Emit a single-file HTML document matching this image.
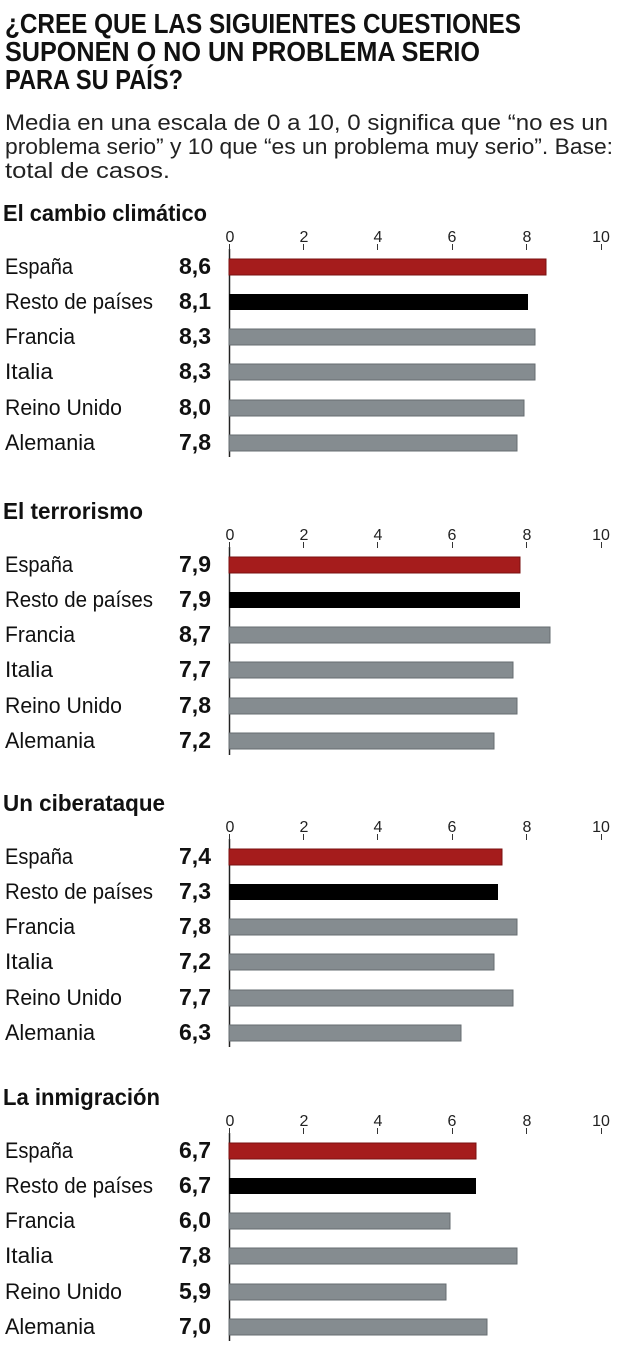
<!DOCTYPE html>
<html><head><meta charset="utf-8"><style>
html,body{margin:0;padding:0;background:#fff}
svg{display:block}
text{font-family:"Liberation Sans",sans-serif}
.t{font-weight:bold;font-size:28px;fill:#111}
.s{font-size:22px;fill:#222}
.h{font-weight:bold;font-size:23px;fill:#111}
.l{font-size:22px;fill:#111}
.v{font-weight:bold;font-size:23px;fill:#111}
.k{font-size:16px;fill:#222}
.r{fill:#a51c1c;stroke:#7a1010;stroke-width:1}
.b{fill:#000}
.g{fill:#858c90;stroke:#666c70;stroke-width:1}
</style></head><body>
<svg width="624" height="1367" viewBox="0 0 624 1367" xmlns="http://www.w3.org/2000/svg">
<text class="t" x="5" y="33" textLength="516" lengthAdjust="spacingAndGlyphs">¿CREE QUE LAS SIGUIENTES CUESTIONES</text>
<text class="t" x="5" y="61" textLength="475" lengthAdjust="spacingAndGlyphs">SUPONEN O NO UN PROBLEMA SERIO</text>
<text class="t" x="5" y="89" textLength="178" lengthAdjust="spacingAndGlyphs">PARA SU PAÍS?</text>
<text class="s" x="5" y="130" textLength="603" lengthAdjust="spacingAndGlyphs">Media en una escala de 0 a 10, 0 significa que “no es un</text>
<text class="s" x="5" y="154" textLength="608" lengthAdjust="spacingAndGlyphs">problema serio” y 10 que “es un problema muy serio”. Base:</text>
<text class="s" x="5" y="178" textLength="165" lengthAdjust="spacingAndGlyphs">total de casos.</text>

<defs>
<g id="ax">
<line x1="229.5" y1="249" x2="229.5" y2="457" stroke="#222" stroke-width="1.5"/>
<g stroke="#333" stroke-width="1">
<line x1="229.5" y1="244" x2="229.5" y2="250"/><line x1="303.5" y1="244" x2="303.5" y2="250"/><line x1="377.5" y1="244" x2="377.5" y2="250"/><line x1="452.5" y1="244" x2="452.5" y2="250"/><line x1="526.5" y1="244" x2="526.5" y2="250"/><line x1="601.5" y1="244" x2="601.5" y2="250"/>
</g>
<g text-anchor="middle">
<text x="230" y="242" class="k">0</text><text x="304" y="242" class="k">2</text><text x="378" y="242" class="k">4</text><text x="452" y="242" class="k">6</text><text x="527" y="242" class="k">8</text><text x="601" y="242" class="k">10</text>
</g>
<text class="l" x="5" y="274" textLength="68" lengthAdjust="spacingAndGlyphs">España</text>
<text class="l" x="5" y="309" textLength="148" lengthAdjust="spacingAndGlyphs">Resto de países</text>
<text class="l" x="5" y="344" textLength="70" lengthAdjust="spacingAndGlyphs">Francia</text>
<text class="l" x="5" y="379" textLength="48" lengthAdjust="spacingAndGlyphs">Italia</text>
<text class="l" x="5" y="415" textLength="117" lengthAdjust="spacingAndGlyphs">Reino Unido</text>
<text class="l" x="5" y="450" textLength="90" lengthAdjust="spacingAndGlyphs">Alemania</text>
</g>
</defs>

<g>
<text class="h" x="3" y="221" textLength="204" lengthAdjust="spacingAndGlyphs">El cambio climático</text>
<use href="#ax"/>
<g class="v" text-anchor="end"><text x="211" y="274">8,6</text><text x="211" y="309">8,1</text><text x="211" y="344">8,3</text><text x="211" y="379">8,3</text><text x="211" y="415">8,0</text><text x="211" y="450">7,8</text></g>
<rect class="r" x="229" y="259" width="317" height="16"/>
<rect class="b" x="229" y="294" width="299" height="16"/>
<rect class="g" x="229" y="329" width="306" height="16"/>
<rect class="g" x="229" y="364" width="306" height="16"/>
<rect class="g" x="229" y="400" width="295" height="16"/>
<rect class="g" x="229" y="435" width="288" height="16"/>
</g>

<g transform="translate(0,298)">
<text class="h" x="3" y="221" textLength="140" lengthAdjust="spacingAndGlyphs">El terrorismo</text>
<use href="#ax"/>
<g class="v" text-anchor="end"><text x="211" y="274">7,9</text><text x="211" y="309">7,9</text><text x="211" y="344">8,7</text><text x="211" y="379">7,7</text><text x="211" y="415">7,8</text><text x="211" y="450">7,2</text></g>
<rect class="r" x="229" y="259" width="291" height="16"/>
<rect class="b" x="229" y="294" width="291" height="16"/>
<rect class="g" x="229" y="329" width="321" height="16"/>
<rect class="g" x="229" y="364" width="284" height="16"/>
<rect class="g" x="229" y="400" width="288" height="16"/>
<rect class="g" x="229" y="435" width="265" height="16"/>
</g>

<g transform="translate(0,590)">
<text class="h" x="3" y="221" textLength="162" lengthAdjust="spacingAndGlyphs">Un ciberataque</text>
<use href="#ax"/>
<g class="v" text-anchor="end"><text x="211" y="274">7,4</text><text x="211" y="309">7,3</text><text x="211" y="344">7,8</text><text x="211" y="379">7,2</text><text x="211" y="415">7,7</text><text x="211" y="450">6,3</text></g>
<rect class="r" x="229" y="259" width="273" height="16"/>
<rect class="b" x="229" y="294" width="269" height="16"/>
<rect class="g" x="229" y="329" width="288" height="16"/>
<rect class="g" x="229" y="364" width="265" height="16"/>
<rect class="g" x="229" y="400" width="284" height="16"/>
<rect class="g" x="229" y="435" width="232" height="16"/>
</g>

<g transform="translate(0,884)">
<text class="h" x="3" y="221" textLength="157" lengthAdjust="spacingAndGlyphs">La inmigración</text>
<use href="#ax"/>
<g class="v" text-anchor="end"><text x="211" y="274">6,7</text><text x="211" y="309">6,7</text><text x="211" y="344">6,0</text><text x="211" y="379">7,8</text><text x="211" y="415">5,9</text><text x="211" y="450">7,0</text></g>
<rect class="r" x="229" y="259" width="247" height="16"/>
<rect class="b" x="229" y="294" width="247" height="16"/>
<rect class="g" x="229" y="329" width="221" height="16"/>
<rect class="g" x="229" y="364" width="288" height="16"/>
<rect class="g" x="229" y="400" width="217" height="16"/>
<rect class="g" x="229" y="435" width="258" height="16"/>
</g>
</svg>
</body></html>
